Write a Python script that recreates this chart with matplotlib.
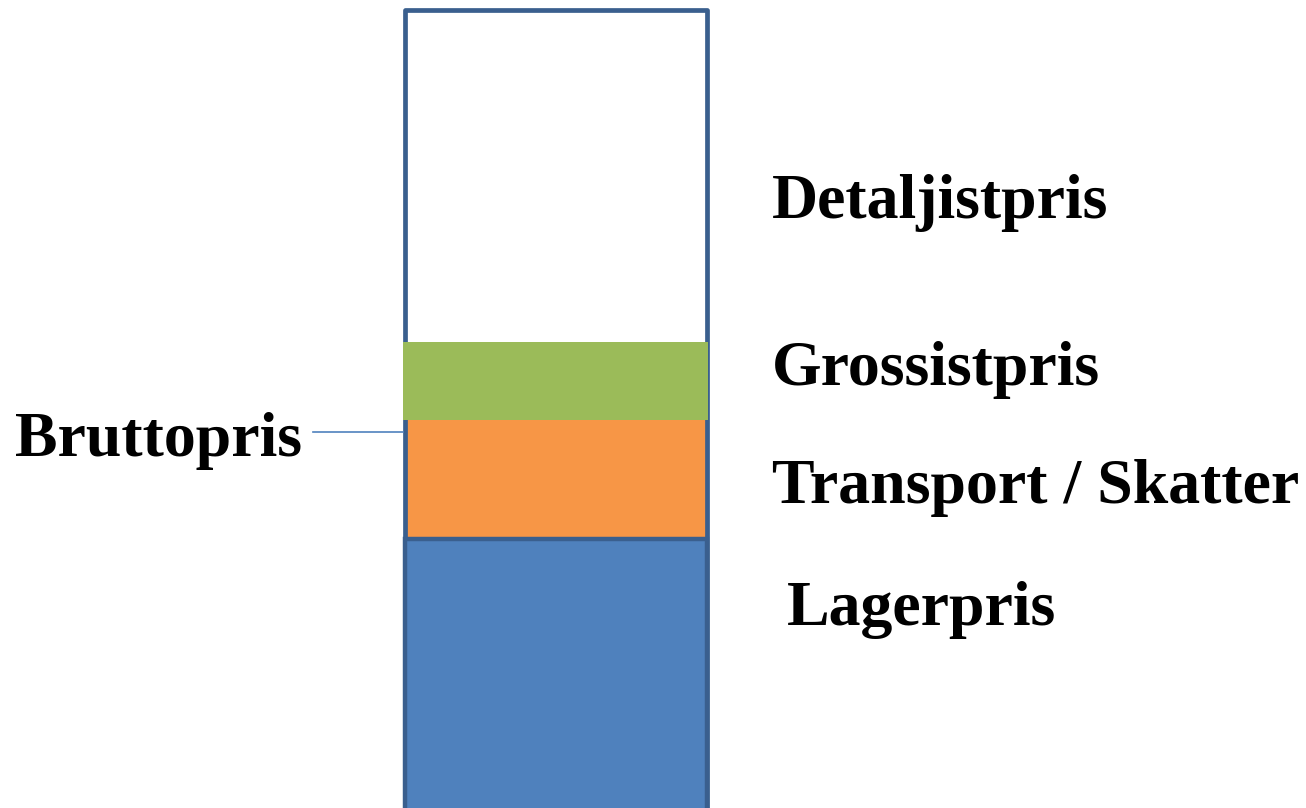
import matplotlib.pyplot as plt
from matplotlib.patches import Rectangle

# price build-up (schematic heights, bottom to top)
segments = ['Lagerpris', 'Transport / Skatter', 'Grossistpris', 'Detaljistpris']
heights = [274, 119, 78, 332.5]
fills = ['#4F81BD', '#F79646', '#9BBB59', '#FFFFFF']
edge = '#3A5F8E'

label_pos = {  # (x, baseline) in data units
    'Detaljistpris': (772, 595),
    'Grossistpris': (772, 428),
    'Transport / Skatter': (772, 310),
    'Lagerpris': (787, 188),
}

fig = plt.figure(figsize=(13.06, 8.08), dpi=100)
ax = fig.add_axes([0, 0, 1, 1])
ax.set_xlim(0, 1306)
ax.set_ylim(5, 813)
ax.axis('off')

xc, w = 555.5, 302
bottoms = [0]
for h in heights[:-1]:
    bottoms.append(bottoms[-1] + h)
total = bottoms[-1] + heights[-1]

# white + orange fills below the outline
ax.bar(xc, heights[3], bottom=bottoms[3], width=w, color=fills[3], zorder=1)
ax.bar(xc, heights[1], bottom=bottoms[1], width=w, color=fills[1], zorder=1)
# outer outline of the whole column
ax.add_patch(Rectangle((xc - w / 2, 0), w, total, fill=False,
                       edgecolor=edge, linewidth=3.4, zorder=2,
                       joinstyle='round'))
# lager segment with its own border
ax.bar(xc, heights[0], bottom=bottoms[0], width=w, color=fills[0],
       edgecolor=edge, linewidth=3.2, zorder=3)
# green segment drawn over the outline
ax.bar(xc, heights[2], bottom=bottoms[2], width=w + 3, color=fills[2], zorder=4)

font = dict(family='Liberation Serif', fontweight='bold', color='black', fontsize=46)
for name in segments:
    x, y = label_pos[name]
    ax.text(x, y, name, va='baseline', ha='left', **font)

# Bruttopris pointer
ax.plot([313, 403], [381, 381], color='#4F81BD', linewidth=1.2, zorder=5)
ax.text(15, 357, 'Bruttopris', va='baseline', ha='left', **font)

fig.savefig('out.png', dpi=100)
